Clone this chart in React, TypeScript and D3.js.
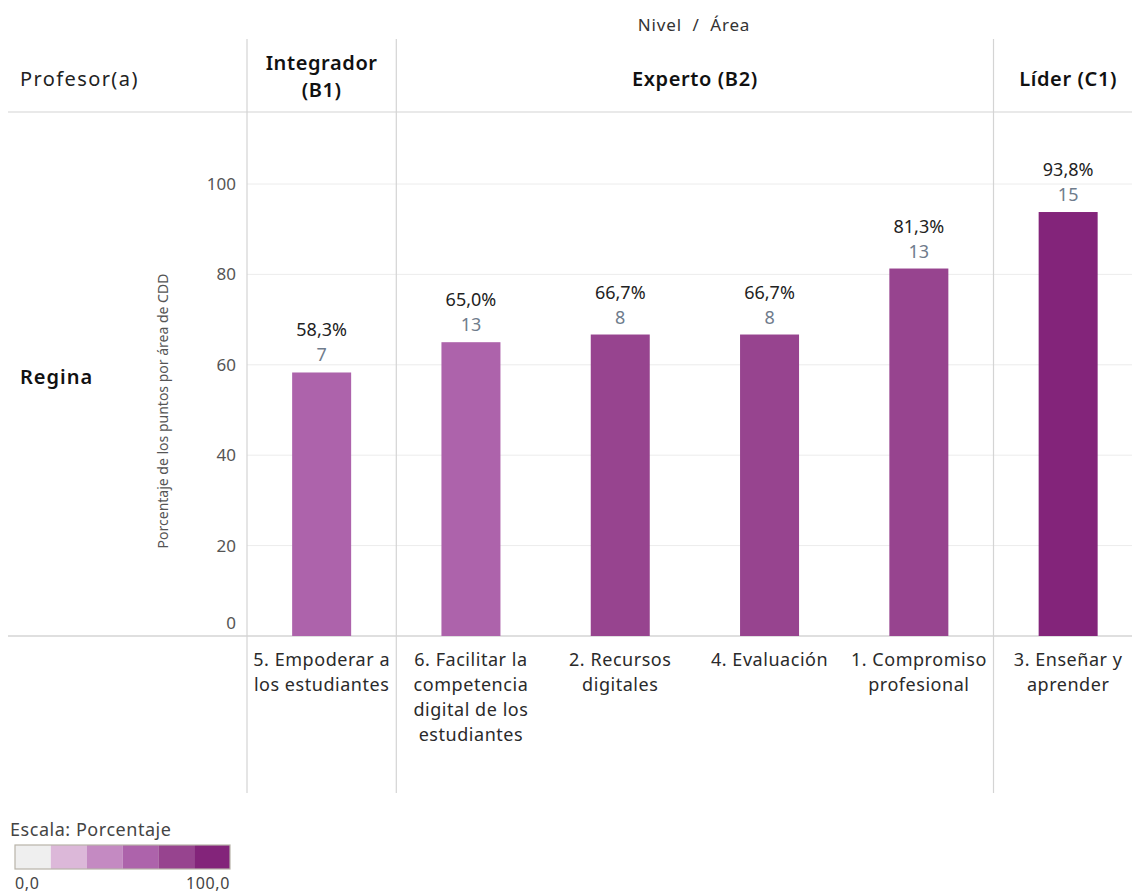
import React, { useEffect } from "react";
import * as d3 from "d3";

// Areas in display order, with their level, percentage and raw points
const areaKeys = ["A5", "A6", "A2", "A4", "A1", "A3"];
const areaLabels = [
  ["5. Empoderar a", "los estudiantes"],
  ["6. Facilitar la", "competencia", "digital de los", "estudiantes"],
  ["2. Recursos", "digitales"],
  ["4. Evaluación"],
  ["1. Compromiso", "profesional"],
  ["3. Enseñar y", "aprender"],
];
const percentValues = [58.3, 65.0, 66.7, 66.7, 81.3, 93.8];
const pointValues = [7, 13, 8, 8, 13, 15];

const levelNames = [["Integrador", "(B1)"], ["Experto (B2)"], ["Líder (C1)"]];
const levelSizes = [1, 4, 1];

const yTicks = [0, 20, 40, 60, 80, 100];
const rampColors = ["#efefef", "#dcb8d9", "#c48ac2", "#ad63ab", "#97448f", "#83247a"];
const teacherName = "Regina";

const FONT = "'Noto Sans', 'Open Sans', sans-serif";

export default function App() {
  useEffect(() => {
    document.body.style.margin = "0";
  }, []);

  const W = 1132;
  const H = 896;
  const colW = 149.3;
  const x0 = 247;
  const x = d3
    .scaleBand<string>()
    .domain(areaKeys)
    .range([x0, x0 + colW * areaKeys.length])
    .padding(0);
  const y = d3.scaleLinear().domain([0, 100]).range([636, 184]);
  const color = d3.scaleQuantize<string>().domain([0, 100]).range(rampColors);
  const barW = 59;
  const bw = x.bandwidth();

  // level boundaries
  let acc = 0;
  const levels = levelSizes.map((n, i) => {
    const start = x(areaKeys[acc])!;
    const last = x(areaKeys[acc + n - 1])! + bw;
    acc += n;
    return { name: levelNames[i], start, end: last, mid: (start + last) / 2 };
  });

  const sepXs = [x0, ...levels.slice(0, -1).map((l) => l.end)];
  const lineColor = "#d4d4d4";

  const rampX = d3.scaleLinear().domain([0, rampColors.length]).range([15, 230]);

  const ls = "0.03em";

  return (
    <svg width={W} height={H} style={{ display: "block", fontFamily: FONT }}>
      <rect width={W} height={H} fill="#fff" />
      {/* column title */}
      <text x={694} y={31} textAnchor="middle" fontSize={17} fill="#333" letterSpacing="0.05em" style={{ whiteSpace: "pre" }}>
        {"Nivel  /  Área"}
      </text>

      {/* gridlines */}
      {yTicks.slice(1).map((t) => (
        <line key={t} x1={x0} x2={W} y1={y(t)} y2={y(t)} stroke="#ececec" strokeWidth={1} />
      ))}

      {/* header rule and baseline */}
      <line x1={8} x2={W} y1={112} y2={112} stroke={lineColor} strokeWidth={1.2} />
      <line x1={8} x2={W} y1={y(0)} y2={y(0)} stroke={lineColor} strokeWidth={1.5} />

      {/* level separators */}
      {sepXs.map((sx, i) => (
        <line key={i} x1={sx} x2={sx} y1={39} y2={793} stroke={lineColor} strokeWidth={1.2} />
      ))}

      {/* header labels */}
      <text x={20} y={86} fontSize={20} fill="#222" letterSpacing="0.07em">
        Profesor(a)
      </text>
      {levels.map((l, i) =>
        l.name.length === 1 ? (
          <text key={i} x={l.mid} y={86} textAnchor="middle" fontSize={20} fontWeight={600} fill="#111" letterSpacing="0.03em">
            {l.name[0]}
          </text>
        ) : (
          <text key={i} x={l.mid} textAnchor="middle" fontSize={20} fontWeight={600} fill="#111" letterSpacing="0.03em">
            {l.name.map((s, j) => (
              <tspan key={j} x={l.mid} y={70 + j * 27}>
                {s}
              </tspan>
            ))}
          </text>
        )
      )}

      {/* row label */}
      <text x={20} y={384} fontSize={20} fontWeight={600} fill="#111" letterSpacing="0.05em">
        {teacherName}
      </text>

      {/* y axis */}
      {yTicks.map((t) => (
        <text key={t} x={236} y={t === 0 ? 629 : y(t) + 6} textAnchor="end" fontSize={17} fill="#555">
          {t}
        </text>
      ))}
      <text
        transform={`translate(168,${y(50) + 1}) rotate(-90)`}
        textAnchor="middle"
        fontSize={14}
        fill="#555"
      >
        Porcentaje de los puntos por área de CDD
      </text>

      {/* bars */}
      {areaKeys.map((k, i) => {
        const cx = x(k)! + bw / 2;
        const top = y(percentValues[i]);
        return (
          <g key={k}>
            <rect x={cx - barW / 2} y={top} width={barW} height={y(0) - top} fill={color(percentValues[i])} />
            <text x={cx} y={top - 36} textAnchor="middle" fontSize={18} fill="#222">
              {percentValues[i].toFixed(1).replace(".", ",")}%
            </text>
            <text x={cx} y={top - 11} textAnchor="middle" fontSize={18} fill="#6f7c8c">
              {pointValues[i]}
            </text>
            <text textAnchor="middle" fontSize={18} fill="#2a2a2a" letterSpacing={ls}>
              {areaLabels[i].map((s, j) => (
                <tspan key={j} x={cx} y={666 + j * 25}>
                  {s}
                </tspan>
              ))}
            </text>
          </g>
        );
      })}

      {/* legend */}
      <text x={10} y={836} fontSize={18} fill="#444" letterSpacing="0.03em">
        Escala: Porcentaje
      </text>
      {rampColors.map((c, i) => (
        <rect key={c} x={rampX(i)} y={845} width={rampX(i + 1) - rampX(i)} height={24} fill={c} />
      ))}
      <rect x={15} y={845} width={215} height={24} fill="none" stroke="#b8b3a8" strokeWidth={1.2} />
      <text x={15} y={889} fontSize={16} fill="#444" letterSpacing="0.04em">
        0,0
      </text>
      <text x={230} y={889} textAnchor="end" fontSize={16} fill="#444" letterSpacing="0.04em">
        100,0
      </text>
    </svg>
  );
}
